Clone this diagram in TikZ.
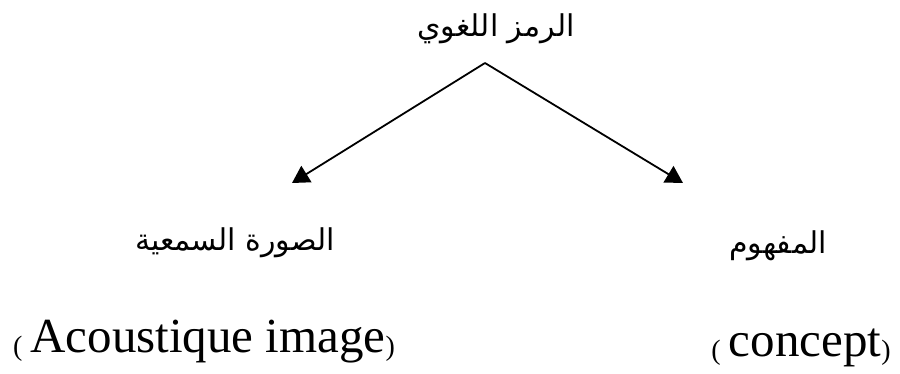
\documentclass[tikz,border=0pt]{standalone}
\usepackage{fontspec}
\setmainfont{Liberation Serif}
\newfontfamily\arabicfont[Script=Arabic]{DejaVu Sans}
\TeXXeTstate=1
\usetikzlibrary{arrows.meta}
\newcommand{\smallparen}[1]{{\fontsize{14pt}{14pt}\selectfont\raisebox{-1.5pt}{#1}}}
\begin{document}
\begin{tikzpicture}[x=0.5pt,y=-0.5pt,
  artext/.style={inner sep=0pt,anchor=base,font=\arabicfont\fontsize{15pt}{18pt}\selectfont},
  latext/.style={inner sep=0pt,anchor=base,font=\fontsize{24.5pt}{28pt}\selectfont},
  arr/.style={line width=0.9pt,-{Triangle[length=8.5pt,width=9.5pt]}}]
\useasboundingbox (0,0) rectangle (900,374);
\node[artext] (top) at (496,37) {\beginR الرمز اللغوي\endR};
\coordinate (apex) at (485,63);
\coordinate (tipL) at (292,183);
\coordinate (tipR) at (683,183);
\draw[arr] (apex) -- (tipL);
\draw[arr] (apex) -- (tipR);
\node[artext] (sound) at (235,250) {\beginR الصورة السمعية\endR};
\node[artext] (concept) at (778,253) {\beginR المفهوم\endR};
\node[latext] (soundlat) at (204,352) {\smallparen{(}\,Acoustique image\smallparen{)}};
\node[latext] (conceptlat) at (801,356) {\smallparen{(}\,concept\smallparen{)}};
\end{tikzpicture}
\end{document}
